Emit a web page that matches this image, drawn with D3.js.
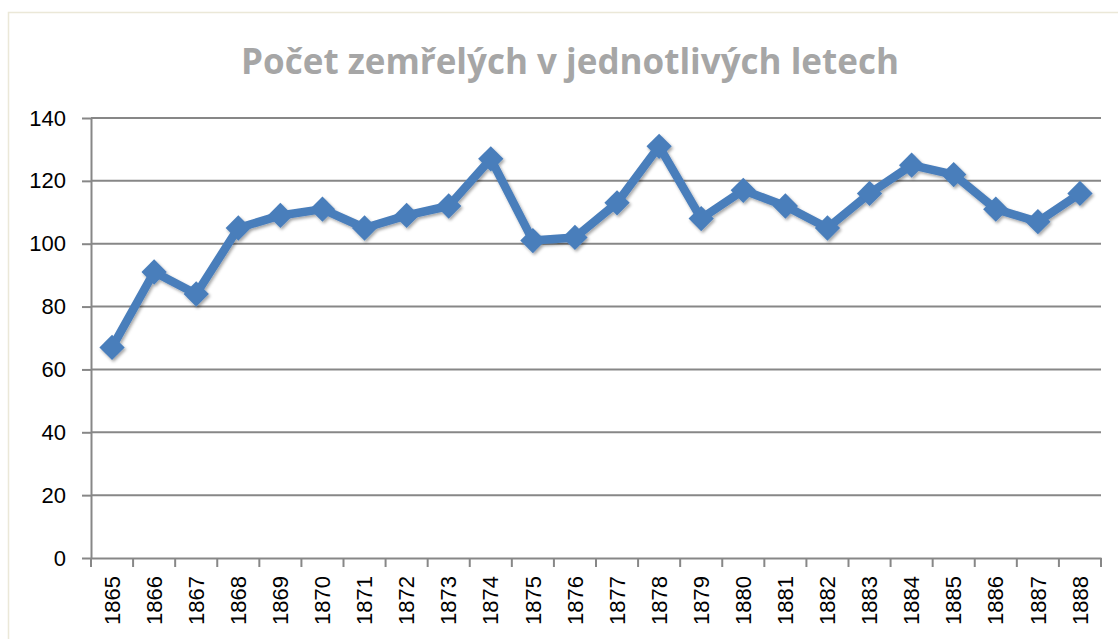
<!DOCTYPE html>
<html><head><meta charset="utf-8">
<script src="https://cdn.jsdelivr.net/npm/d3@7"></script>
<style>body{margin:0;background:#fff}svg{display:block}</style>
</head><body>
<svg id="c" width="1118" height="639"></svg>
<script>
const years = ["1865","1866","1867","1868","1869","1870","1871","1872","1873","1874","1875","1876","1877","1878","1879","1880","1881","1882","1883","1884","1885","1886","1887","1888"];
const deaths = [67,91,84,105,109,111,105,109,112,127,101,102,113,131,108,117,112,105,116,125,122,111,107,116];
const yTicks = [0,20,40,60,80,100,120,140];
const title = "Počet zemřelých v jednotlivých letech";

const svg = d3.select("#c");
svg.append("rect").attr("x",8.5).attr("y",12.5).attr("width",1130).attr("height",640)
  .attr("fill","#fff").attr("stroke","#ebe8d8").attr("stroke-width",1.5);

const L=91,R=1101,T=118,B=558;
const x = d3.scaleBand().domain(years).range([L,R]);
const y = d3.scaleLinear().domain([0,140]).range([B,T]);

const defs = svg.append("defs");
const f = defs.append("filter").attr("id","sh").attr("x","-50%").attr("y","-50%").attr("width","200%").attr("height","200%");
f.append("feDropShadow").attr("dx",1.5).attr("dy",2).attr("stdDeviation",1.8).attr("flood-color","#000").attr("flood-opacity",0.35);

svg.append("text").attr("x",570).attr("y",74).attr("text-anchor","middle")
  .attr("font-family","'Open Sans',sans-serif").attr("font-weight","bold").attr("font-size",35)
  .attr("fill","#a6a6a6").text(title);

// gridlines
svg.append("g").selectAll("line").data(yTicks.filter(d=>d>0)).join("line")
  .attr("x1",L).attr("x2",R).attr("y1",d=>y(d)).attr("y2",d=>y(d))
  .attr("stroke","#878787").attr("stroke-width",2);

const ya = svg.append("g").attr("transform",`translate(${L},0)`)
  .call(d3.axisLeft(y).tickValues(yTicks).tickSize(9).tickPadding(16).tickSizeOuter(0));
ya.select(".domain").attr("stroke","#878787").attr("stroke-width",2);
ya.selectAll(".tick line").attr("stroke","#878787").attr("stroke-width",2);
ya.selectAll("text").attr("font-family","'Liberation Sans',Arial,sans-serif").attr("font-size",22).attr("fill","#000");

const xa = svg.append("g").attr("transform",`translate(0,${B})`)
  .call(d3.axisBottom(x).tickSize(0).tickSizeOuter(0));
xa.select(".domain").attr("stroke","#878787").attr("stroke-width",2);
const bounds = [L].concat(years.map(d=>x(d)+x.bandwidth()));
svg.append("g").selectAll("line").data(bounds).join("line")
  .attr("x1",d=>d).attr("x2",d=>d).attr("y1",B).attr("y2",B+9)
  .attr("stroke","#878787").attr("stroke-width",2);
xa.selectAll("text").attr("font-family","'Liberation Sans',Arial,sans-serif").attr("font-size",22).attr("fill","#000")
  .attr("transform","rotate(-90)").attr("text-anchor","end").attr("dy","0.35em").attr("x",-18).attr("y",0);

const cx = d=>x(d)+x.bandwidth()/2;
const line = d3.line().x((d,i)=>cx(years[i])).y(d=>y(d));
const g = svg.append("g").attr("filter","url(#sh)");
g.append("path").datum(deaths).attr("d",line).attr("fill","none")
  .attr("stroke","#4a7ebb").attr("stroke-width",8.5).attr("stroke-linejoin","round");
g.selectAll("path.m").data(deaths).join("path").attr("class","m")
  .attr("d",d3.symbol(d3.symbolSquare,320)())
  .attr("transform",(d,i)=>`translate(${cx(years[i])},${y(d)}) rotate(45)`)
  .attr("fill","#4a7ebb");
</script>
</body></html>
